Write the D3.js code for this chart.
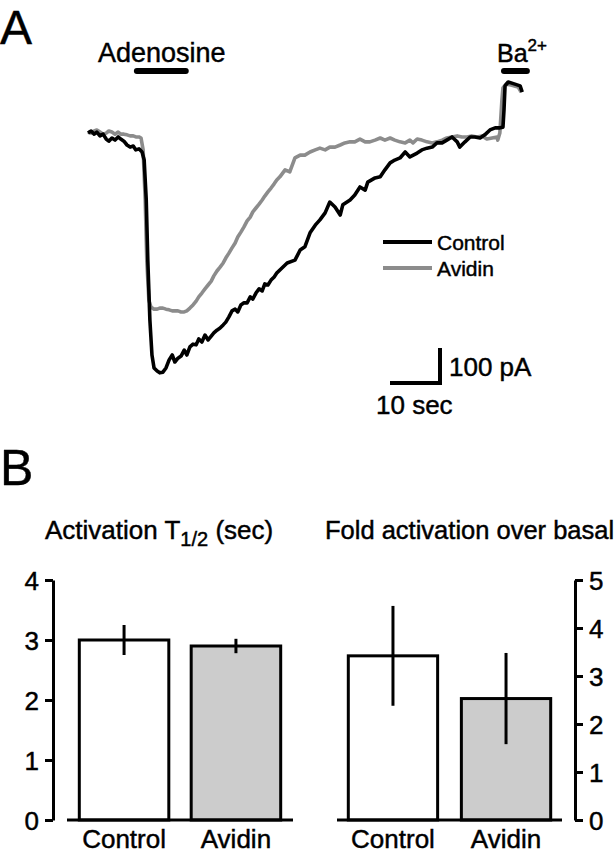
<!DOCTYPE html>
<html><head><meta charset="utf-8">
<script src="https://cdn.jsdelivr.net/npm/d3@7"></script>
<style>
html,body{margin:0;padding:0;background:#fff;}
svg{display:block;font-family:"Liberation Sans",Arial,Helvetica,sans-serif;}
svg text{stroke:#000;stroke-width:0.45px;fill:#000;}
</style></head>
<body>
<svg id="c" width="614" height="853"></svg>
<script>
// ---- Panel A data: time (s), current (pA) ----
const controlTrace = [
[0.0,-6],[0.6,0],[1.2,-9],[1.7,-3],[2.3,-14],[2.9,-9],[3.5,-23],[4.0,-29],[4.6,-20],[5.2,-26],[5.8,-17],[6.3,-23],[6.9,-29],[7.5,-40],[8.1,-46],[8.7,-43],[9.2,-54],[9.8,-51],[10.4,-60],[10.8,-83],[11.2,-197],[11.5,-369],[11.9,-540],[12.3,-640],[12.7,-677],[13.3,-686],[13.8,-691],[14.4,-689],[15.0,-677],[15.6,-654],[16.2,-640],[16.7,-660],[17.3,-649],[17.9,-643],[18.5,-626],[19.0,-640],[19.6,-617],[20.2,-609],[20.8,-611],[21.3,-594],[21.9,-603],[22.5,-583],[23.1,-597],[23.7,-586],[24.2,-577],[24.8,-569],[25.4,-563],[26.0,-554],[26.5,-546],[27.1,-531],[27.7,-514],[28.3,-509],[28.8,-517],[29.4,-497],[30.0,-491],[30.6,-491],[31.2,-474],[31.7,-480],[32.3,-463],[32.9,-451],[33.5,-457],[34.0,-437],[34.6,-440],[35.2,-426],[35.8,-417],[36.3,-406],[36.9,-397],[38.3,-377],[39.8,-369],[40.8,-340],[41.7,-331],[42.7,-291],[43.7,-269],[44.6,-254],[45.6,-234],[46.5,-203],[47.5,-217],[48.5,-240],[49.0,-211],[50.4,-197],[51.3,-183],[52.3,-160],[53.3,-169],[53.8,-146],[55.2,-134],[56.2,-131],[57.1,-111],[58.1,-91],[59.0,-83],[60.0,-77],[61.0,-60],[61.9,-74],[63.3,-63],[64.2,-54],[65.2,-49],[66.2,-46],[67.1,-34],[68.1,-34],[69.0,-26],[70.0,-17],[71.0,-31],[71.5,-46],[72.5,-31],[73.5,-17],[74.4,-17],[75.4,-20],[76.3,-11],[77.3,3],[78.3,9],[79.2,9],[79.8,11],[80.0,60],[80.2,129],[80.8,140],[82.1,134],[83.1,129],[83.5,111]
];
const avidinTrace = [
[0.0,-3],[0.6,-6],[1.2,0],[1.7,3],[2.3,-3],[2.9,-9],[3.5,-6],[4.0,0],[4.6,-3],[5.2,-9],[5.8,-3],[6.3,-9],[6.9,-9],[7.5,-11],[8.1,-14],[8.7,-14],[9.2,-17],[9.8,-17],[10.2,-20],[10.6,-54],[11.0,-197],[11.3,-369],[11.7,-483],[12.1,-503],[12.7,-509],[13.3,-509],[13.8,-506],[14.4,-506],[15.0,-509],[15.6,-511],[16.2,-514],[16.7,-514],[17.3,-514],[17.9,-517],[18.5,-517],[19.0,-514],[19.6,-506],[20.2,-497],[20.8,-486],[21.3,-474],[21.9,-463],[22.5,-451],[23.1,-440],[23.7,-429],[24.2,-414],[24.8,-400],[25.4,-389],[26.0,-377],[26.5,-363],[27.1,-349],[27.7,-334],[28.3,-320],[28.8,-303],[29.4,-289],[30.0,-274],[30.6,-257],[31.2,-246],[31.7,-231],[32.3,-220],[32.9,-209],[33.5,-197],[34.0,-186],[34.6,-174],[35.2,-163],[35.8,-151],[36.3,-140],[36.9,-131],[37.9,-111],[38.8,-117],[39.8,-77],[40.8,-69],[41.7,-69],[42.7,-60],[43.7,-54],[44.6,-49],[45.6,-54],[46.5,-46],[47.5,-46],[48.5,-40],[49.4,-34],[50.4,-31],[51.3,-31],[52.3,-23],[53.3,-31],[54.2,-31],[55.2,-26],[56.2,-20],[57.1,-26],[58.1,-20],[59.0,-26],[60.0,-31],[61.0,-34],[61.9,-26],[62.5,-34],[63.3,-23],[64.2,-26],[65.2,-31],[66.2,-34],[67.1,-31],[68.1,-26],[69.0,-20],[70.0,-17],[71.0,-14],[71.9,-17],[72.9,-17],[73.8,-14],[74.8,-17],[75.8,-14],[76.7,-23],[77.7,-20],[78.7,-17],[78.8,-26],[79.2,-6],[79.6,89],[79.8,123],[80.4,134],[81.5,131],[82.7,126],[83.3,111]
];
const adenosineApp = [9.4, 18.8];   // s
const bariumApp = [80.0, 84.4];     // s
const scaleBarTime = 10;            // s
const scaleBarCurrent = 100;        // pA
const traceNames = ["Control", "Avidin"];

// ---- Panel B data ----
const categories = ["Control", "Avidin"];
const t12Mean = [3.0, 2.9];
const t12Err = [0.25, 0.12];
const t12Ticks = [0, 1, 2, 3, 4];
const foldMean = [3.42, 2.53];
const foldErr = [1.04, 0.95];
const foldTicks = [0, 1, 2, 3, 4, 5];

const svg = d3.select("#c");
const BLACK = "#000", GRAY = "#8c8c8c", FILL = "#cccccc";

// ---------- Panel A ----------
svg.append("text").attr("x", 0).attr("y", 44).attr("font-size", 48).text("A");

const x = d3.scaleLinear().domain([0, 84]).range([88, 88 + 84 * 5.2]);
const y = d3.scaleLinear().domain([0, -100]).range([131, 166]);
const line = d3.line().x(d => x(d[0])).y(d => y(d[1]));

svg.append("path").datum(avidinTrace).attr("d", line)
  .attr("fill", "none").attr("stroke", GRAY).attr("stroke-width", 3.6).attr("stroke-linejoin", "round");
svg.append("path").datum(controlTrace).attr("d", line)
  .attr("fill", "none").attr("stroke", BLACK).attr("stroke-width", 3.6).attr("stroke-linejoin", "round");

// application bars
svg.append("line").attr("x1", x(adenosineApp[0])).attr("x2", x(adenosineApp[1]))
  .attr("y1", 71).attr("y2", 71).attr("stroke", BLACK).attr("stroke-width", 6).attr("stroke-linecap", "round");
svg.append("text").attr("x", 98).attr("y", 62).attr("font-size", 27).text("Adenosine");
svg.append("line").attr("x1", x(bariumApp[0])).attr("x2", x(bariumApp[1]))
  .attr("y1", 71).attr("y2", 71).attr("stroke", BLACK).attr("stroke-width", 6).attr("stroke-linecap", "round");
const ba = svg.append("text").attr("x", 497).attr("y", 62).attr("font-size", 25);
ba.append("tspan").text("Ba");
ba.append("tspan").attr("font-size", 17).attr("dy", -11).text("2+");

// legend
const legY = [242, 268];
traceNames.forEach((n, i) => {
  svg.append("line").attr("x1", 383).attr("x2", 432).attr("y1", legY[i]).attr("y2", legY[i])
    .attr("stroke", i === 0 ? BLACK : GRAY).attr("stroke-width", 4);
  svg.append("text").attr("x", 437).attr("y", legY[i] + 7.5).attr("font-size", 21).text(n);
});

// scale bar
const sbX = 442, sbY = 383;
const sbW = x(scaleBarTime) - x(0);
const sbH = y(-scaleBarCurrent) - y(0);
svg.append("path")
  .attr("d", `M${sbX - sbW},${sbY}H${sbX - 2}V${sbY - sbH}`)
  .attr("fill", "none").attr("stroke", BLACK).attr("stroke-width", 4);
svg.append("text").attr("x", 449).attr("y", 376).attr("font-size", 26).text(scaleBarCurrent + " pA");
svg.append("text").attr("x", 376).attr("y", 414).attr("font-size", 26).text(scaleBarTime + " sec");

// ---------- Panel B ----------
svg.append("text").attr("x", 0).attr("y", 485).attr("font-size", 50).text("B");

function barChart(opts) {
  const g = svg.append("g");
  const yS = d3.scaleLinear().domain([0, opts.ticks[opts.ticks.length - 1]]).range([820, 580]);
  const xS = d3.scaleBand().domain(categories).range(opts.range).paddingInner(opts.pin).paddingOuter(opts.pout);
  g.selectAll("rect.bar").data(opts.mean).join("rect")
    .attr("x", (d, i) => xS(categories[i]))
    .attr("width", xS.bandwidth())
    .attr("y", d => yS(d))
    .attr("height", d => yS(0) - yS(d))
    .attr("fill", (d, i) => i === 0 ? "#fff" : FILL)
    .attr("stroke", BLACK).attr("stroke-width", 3);
  g.selectAll("line.err").data(opts.mean).join("line")
    .attr("x1", (d, i) => xS(categories[i]) + xS.bandwidth() / 2)
    .attr("x2", (d, i) => xS(categories[i]) + xS.bandwidth() / 2)
    .attr("y1", (d, i) => yS(d + opts.err[i]))
    .attr("y2", (d, i) => yS(d - opts.err[i]))
    .attr("stroke", BLACK).attr("stroke-width", 3);
  g.append("line").attr("x1", opts.range[0]).attr("x2", opts.range[1])
    .attr("y1", yS(0)).attr("y2", yS(0)).attr("stroke", BLACK).attr("stroke-width", 3);
  g.selectAll("text.cat").data(categories).join("text")
    .attr("x", d => xS(d) + xS.bandwidth() / 2).attr("y", 848)
    .attr("text-anchor", "middle").attr("font-size", 26).text(d => d);
  const ax = (opts.side === "left" ? d3.axisLeft(yS) : d3.axisRight(yS))
    .tickValues(opts.ticks).tickSize(8).tickSizeOuter(0).tickPadding(6).tickFormat(d3.format("d"));
  const ag = g.append("g").attr("transform", `translate(${opts.axisX},0)`).call(ax);
  ag.select(".domain").attr("stroke-width", 3).attr("stroke", BLACK);
  ag.selectAll(".tick line").attr("stroke-width", 3).attr("stroke", BLACK);
  ag.selectAll(".tick text").attr("font-size", 26).attr("font-family", "Liberation Sans, Arial, sans-serif")
    .attr("fill", BLACK).attr("dy", "0.36em");
  ag.attr("font-size", null).attr("font-family", null);
  const t = svg.append("text").attr("x", opts.titleX).attr("y", 539).attr("font-size", opts.titleSize);
  opts.title(t);
}

barChart({
  mean: t12Mean, err: t12Err, ticks: t12Ticks, side: "left", axisX: 53,
  range: [67, 293], pin: 0.2, pout: 0.11, titleX: 45, titleSize: 26,
  title: t => {
    t.append("tspan").text("Activation T");
    t.append("tspan").attr("font-size", 20).attr("dy", 7).text("1/2");
    t.append("tspan").attr("dy", -7).text(" (sec)");
  }
});
barChart({
  mean: foldMean, err: foldErr, ticks: foldTicks, side: "right", axisX: 575,
  range: [337, 562], pin: 0.21, pout: 0.1, titleX: 325, titleSize: 25.5,
  title: t => { t.text("Fold activation over basal"); }
});
</script>
</body></html>
